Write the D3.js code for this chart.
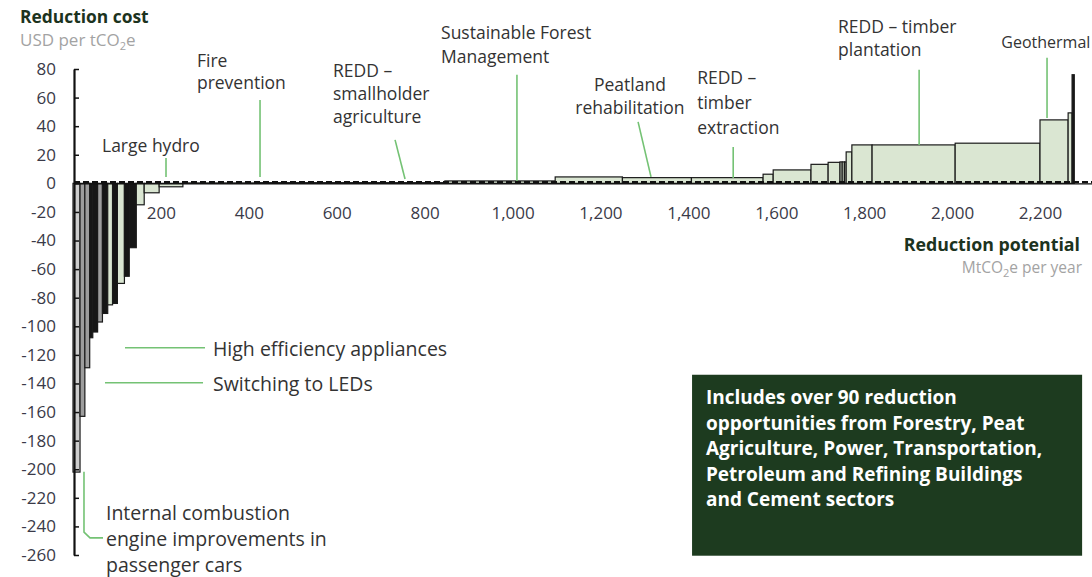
<!DOCTYPE html>
<html>
<head>
<meta charset="utf-8">
<script src="https://cdn.jsdelivr.net/npm/d3@7"></script>
<style>
body{margin:0;background:#fff;}
svg{display:block;font-family:"Open Sans",sans-serif;}
.tick text{fill:#3a3a48;font-size:17px;}
.note{fill:#333;font-size:17.5px;}
.note.big{font-size:19.5px;}
.note.small{font-size:16px;}
.leader{stroke:#74c274;stroke-width:1.6;fill:none;}
.boxText{fill:#fff;font-size:19px;font-weight:bold;}
</style>
</head>
<body>
<script>
var WIDTH = 1092, HEIGHT = 577;

// width of each step (MtCO2e per year), left to right
var potential = [16, 11, 11, 7, 11, 11, 12, 11, 11, 16, 11, 16, 18, 34, 54,
                 175, 421, 251, 153, 157, 163, 23, 86, 39, 27, 5, 5, 4, 13, 46, 189, 193, 64, 9, 5];
// reduction cost of each step (USD per tCO2e)
var cost = [-202, -163, -129, -108, -104, -97, -91, -85, -84, -70, -65, -45, -15, -6.6, -2.4,
            0.3, 0.5, 1.7, 4.5, 4, 4, 6.4, 9.4, 13.3, 14.7, 15, 15, 15, 22, 26.9, 26.9, 28.1, 44.4, 49.3, 76];
var shade = ['lgray','gray','gray','black','black','gray','black','green','black','green','black','black','green','green','green',
             'green','green','green','green','green','green','green','green','green','green','green','green','green','green','green','green','green','green','green','black'];

var yTicks = [80, 60, 40, 20, 0, -20, -40, -60, -80, -100, -120, -140, -160, -180, -200, -220, -240, -260];
var xTicks = [200, 400, 600, 800, 1000, 1200, 1400, 1600, 1800, 2000, 2200];

var noteText = [
    ["Large hydro"],
    ["Fire", "prevention"],
    ["REDD –", "smallholder", "agriculture"],
    ["Sustainable Forest", "Management"],
    ["Peatland", "rehabilitation"],
    ["REDD –", "timber", "extraction"],
    ["REDD – timber", "plantation"],
    ["Geothermal"],
    ["High efficiency appliances"],
    ["Switching to LEDs"],
    ["Internal combustion", "engine improvements in", "passenger cars"]
];
var boxText = ["Includes over 90 reduction", "opportunities from Forestry, Peat",
               "Agriculture, Power, Transportation,", "Petroleum and Refining Buildings",
               "and Cement sectors"];

var FILLS = {black:'#161616', gray:'#9d9d9d', lgray:'#cdcdcd', green:'#dae6d2'};

// label placement, in chart units (x: MtCO2e, y: USD)
var noteLayout = [
    {x:66, y:26.2, lh:0, leader:[[211.6,17.8],[211.6,4.5]]},
    {x:282, y:85.7, lh:22, leader:[[425.5,58.4],[425.5,4.5]]},
    {x:591.6, y:78.7, lh:23, leader:[[732.7,30.4],[755.4,3]]},
    {x:837.3, y:105.2, lh:24, leader:[[1010,75.9],[1010,1.7]]},
    {x:1267, y:69, lh:23, anchor:'middle', leader:[[1285.6,43],[1315,4.5]]},
    {x:1420, y:73.8, lh:25, leader:[[1502,25.5],[1502,3.8]]},
    {x:1740.6, y:109.4, lh:23, leader:[[1925,79.4],[1925,26.9]]},
    {x:2112, y:98.9, lh:0, size:'small', leader:[[2216,87.8],[2216,45.8]]},
    {x:318.5, y:-115.7, lh:0, size:'big', leader:[[118.3,-115],[300.3,-115]]},
    {x:318.5, y:-140.2, lh:0, size:'big', leader:[[72.8,-139.5],[295.8,-139.5]]},
    {x:75, y:-231, lh:26, size:'big', leader:[[25,-201.7],[25,-244],[38.7,-248],[68.3,-248]]}
];

var _xScale = d3.scaleLinear().domain([0, 2200]).range([73, 1040]);
var _yScale = d3.scaleLinear().domain([-260, 80]).range([555, 69]);

var _svg = d3.select('body').append('svg')
    .attr('width', WIDTH)
    .attr('height', HEIGHT);

// cumulative start of every step
var starts = [];
potential.reduce(function(acc, w){ starts.push(acc); return acc + w; }, 0);

var bars = potential.map(function(w, i){
    return {start:starts[i], end:starts[i] + w, cost:cost[i], shade:shade[i]};
});

_svg.append('g').selectAll('rect').data(bars)
    .enter()
    .append('rect')
        .attr('x', function(d){ return _xScale(d.start); })
        .attr('width', function(d){ return _xScale(d.end) - _xScale(d.start); })
        .attr('y', function(d){ return _yScale(Math.max(d.cost, 0)); })
        .attr('height', function(d){ return Math.abs(_yScale(d.cost) - _yScale(0)); })
        .attr('fill', function(d){ return FILLS[d.shade]; })
        .attr('stroke', '#1a1a1a')
        .attr('stroke-width', 1.2);

// baseline: thin rule plus the dashed look of the tiny steps
var y0 = _yScale(0);
_svg.append('line')
    .attr('x1', 74).attr('x2', WIDTH)
    .attr('y1', y0 + 0.5).attr('y2', y0 + 0.5)
    .attr('stroke', '#111').attr('stroke-width', 1.2);
_svg.append('line')
    .attr('x1', 74).attr('x2', WIDTH)
    .attr('y1', y0 - 1.2).attr('y2', y0 - 1.2)
    .attr('stroke', '#111').attr('stroke-width', 2.4)
    .attr('stroke-dasharray', '6,3');

// y axis
var yAxis = _svg.append('g')
    .attr('transform', 'translate(74,0)')
    .call(d3.axisLeft(_yScale)
        .tickValues(yTicks)
        .tickSize(-5)
        .tickSizeOuter(0)
        .tickPadding(18)
        .tickFormat(function(d){ return String(d); }));
yAxis.select('.domain').attr('stroke', '#111').attr('stroke-width', 2.2);
yAxis.selectAll('.tick line').attr('stroke', '#111').attr('stroke-width', 1.5);
yAxis.selectAll('.tick text').attr('font-family', '"Open Sans",sans-serif');

// x axis labels only
var xAxis = _svg.append('g')
    .attr('transform', 'translate(0,' + y0 + ')')
    .call(d3.axisBottom(_xScale)
        .tickValues(xTicks)
        .tickSize(0)
        .tickPadding(24)
        .tickFormat(d3.format(',')));
xAxis.select('.domain').remove();
xAxis.selectAll('.tick text').attr('font-family', '"Open Sans",sans-serif');

// axis titles
var sub = function(sel, pre, post){
    sel.append('tspan').text(pre);
    sel.append('tspan').attr('font-size', 11).attr('dy', 4).text('2');
    sel.append('tspan').attr('dy', -4).text(post);
};
_svg.append('text').attr('x', 20).attr('y', 17).attr('dy', '0.35em')
    .attr('font-size', 17.4).attr('font-weight', 'bold').attr('fill', '#1c3320')
    .text('Reduction cost');
_svg.append('text').attr('x', 20).attr('y', 40).attr('dy', '0.35em')
    .attr('font-size', 17).attr('fill', '#a3a3a3')
    .call(sub, 'USD per tCO', 'e');
_svg.append('text').attr('x', 1080).attr('y', 245).attr('dy', '0.35em')
    .attr('text-anchor', 'end')
    .attr('font-size', 17.8).attr('font-weight', 'bold').attr('fill', '#1c3320')
    .text('Reduction potential');
_svg.append('text').attr('x', 1082).attr('y', 268).attr('dy', '0.35em')
    .attr('text-anchor', 'end')
    .attr('font-size', 15.5).attr('fill', '#a3a3a3')
    .call(sub, 'MtCO', 'e per year');

// annotations
var leaderLine = d3.line()
    .x(function(d){ return _xScale(d[0]); })
    .y(function(d){ return _yScale(d[1]); });

var notes = _svg.append('g');
noteLayout.forEach(function(n, i){
    notes.append('path').classed('leader', true).attr('d', leaderLine(n.leader));
    var t = notes.append('text').classed('note', true)
        .classed('big', n.size === 'big')
        .classed('small', n.size === 'small')
        .attr('text-anchor', n.anchor || 'start');
    noteText[i].forEach(function(line, j){
        t.append('tspan')
            .attr('x', _xScale(n.x))
            .attr('y', _yScale(n.y) + j * n.lh)
            .attr('dy', '0.35em')
            .text(line);
    });
});

// info box
var box = _svg.append('g');
box.append('rect')
    .attr('x', _xScale(1408.4)).attr('y', _yScale(-133.9))
    .attr('width', _xScale(2295.8) - _xScale(1408.4))
    .attr('height', _yScale(-260.5) - _yScale(-133.9))
    .attr('fill', '#1d3b1f');
box.selectAll('text').data(boxText)
    .enter()
    .append('text')
        .classed('boxText', true)
        .attr('x', _xScale(1440))
        .attr('y', function(d, i){ return _yScale(-150) + i * 25.5; })
        .attr('dy', '0.35em')
        .text(function(d){ return d; });
</script>
</body>
</html>
